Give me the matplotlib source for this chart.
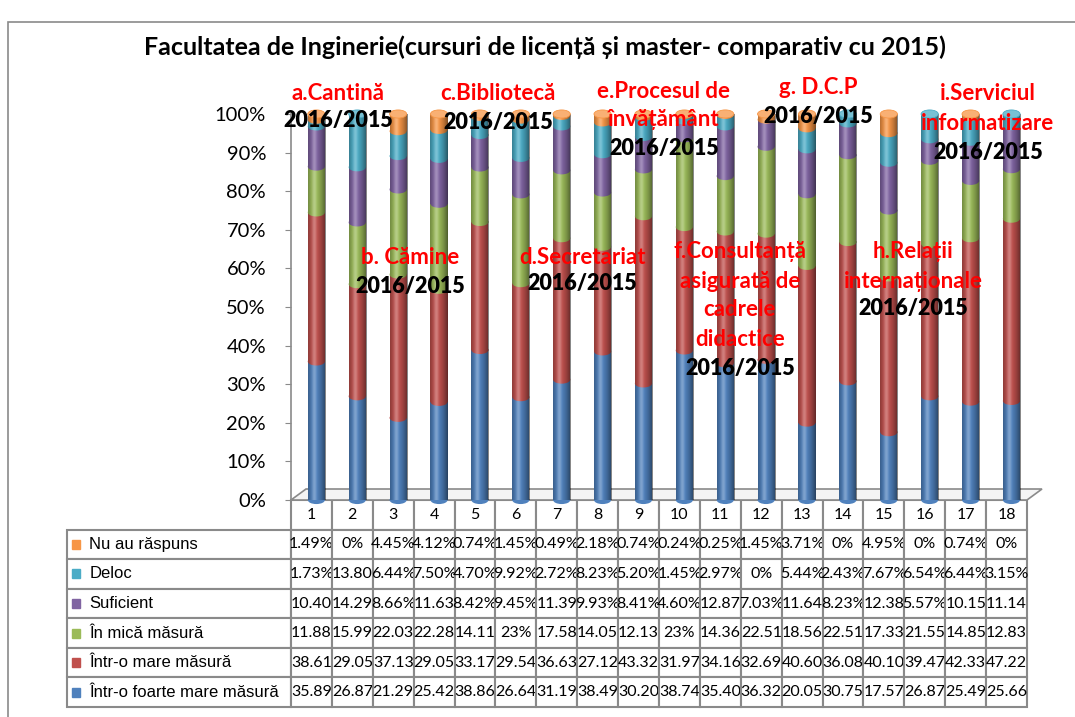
import numpy as np
import matplotlib
matplotlib.use("Agg")
import matplotlib.pyplot as plt
from matplotlib.patches import Rectangle, Ellipse, Polygon
from matplotlib.table import Table
from matplotlib.colors import to_rgb

# ---- data ----
categories = [str(i) for i in range(1, 19)]

foarte_mare = [35.89, 26.87, 21.29, 25.42, 38.86, 26.64, 31.19, 38.49, 30.20,
               38.74, 35.40, 36.32, 20.05, 30.75, 17.57, 26.87, 25.49, 25.66]
mare        = [38.61, 29.05, 37.13, 29.05, 33.17, 29.54, 36.63, 27.12, 43.32,
               31.97, 34.16, 32.69, 40.60, 36.08, 40.10, 39.47, 42.33, 47.22]
mica        = [11.88, 15.99, 22.03, 22.28, 14.11, 23.00, 17.58, 14.05, 12.13,
               23.00, 14.36, 22.51, 18.56, 22.51, 17.33, 21.55, 14.85, 12.83]
suficient   = [10.40, 14.29, 8.66, 11.63, 8.42, 9.45, 11.39, 9.93, 8.41,
               4.60, 12.87, 7.03, 11.64, 8.23, 12.38, 5.57, 10.15, 11.14]
deloc       = [1.73, 13.80, 6.44, 7.50, 4.70, 9.92, 2.72, 8.23, 5.20,
               1.45, 2.97, 0.00, 5.44, 2.43, 7.67, 6.54, 6.44, 3.15]
nu_raspuns  = [1.49, 0.00, 4.45, 4.12, 0.74, 1.45, 0.49, 2.18, 0.74,
               0.24, 0.25, 1.45, 3.71, 0.00, 4.95, 0.00, 0.74, 0.00]

# bottom -> top
series_names = ["Într-o foarte mare măsură", "Într-o mare măsură", "În mică măsură",
                "Suficient", "Deloc", "Nu au răspuns"]
series_vals = [foarte_mare, mare, mica, suficient, deloc, nu_raspuns]
colors = ["#4F81BD", "#C0504D", "#9BBB59", "#8064A2", "#4BACC6", "#F79646"]

title = "Facultatea de Inginerie(cursuri de licență și master- comparativ cu 2015)"
groups = ["a.Cantină", "b. Cămine", "c.Bibliotecă", "d.Secretariat",
          "e.Procesul de\nînvățământ", "f.Consultanță\nasigurată de\ncadrele\ndidactice",
          "g. D.C.P", "h.Relații\ninternaționale", "i.Serviciul\ninformatizare"]
period = "2016/2015"

# ---- layout (pixels of the 1075x717 picture) ----
W, H = 1075, 717
def fx(x): return x / W
def fy(y): return 1 - y / H

# centre x, red label first-line y, black period y
group_pos = [(338, 93, 120), (410, 258, 287), (498, 94, 122), (582, 257, 284),
             (664, 91, 148), (740, 252, 368), (818, 88, 117), (913, 252, 308),
             (988, 94, 152)]
LINE_PX = 29

FONT = ["Lato", "DejaVu Sans"]
BAR_W = 0.42
DEPTH_DX = 0.12
CAP_H = 2.1
GRAY = "#8a8a8a"

AX_L, AX_R, AX_B, AX_T = 291, 1027, 500, 114

plt.rcParams["font.family"] = FONT

fig = plt.figure(figsize=(10.75, 7.17), dpi=100)
ax = fig.add_axes([fx(AX_L), fy(AX_B), fx(AX_R) - fx(AX_L), fy(AX_T) - fy(AX_B)])
ax_w, ax_h = AX_R - AX_L, AX_B - AX_T

# ---- cylinders ----
x = np.arange(1, len(categories) + 1) + DEPTH_DX
bottom = np.zeros(len(categories))
top_color = [colors[0]] * len(categories)
for k, (vals, col) in enumerate(zip(series_vals, colors)):
    vals = np.array(vals, dtype=float)
    ax.bar(x, vals, BAR_W, bottom=bottom, color=col, linewidth=0, zorder=3 + 2 * k)
    for i, (xi, b, v) in enumerate(zip(x, bottom, vals)):
        if v <= 0:
            continue
        top_color[i] = col
        ax.add_patch(Ellipse((xi, b), BAR_W, CAP_H, color=col, lw=0,
                             zorder=(2 if b == 0 else 4 + 2 * k), clip_on=False))
    bottom += vals

# shading to give a round look
t = np.linspace(0, 1, 64)
dark = 0.5 * np.abs((t - 0.4) / 0.6) ** 1.6
light = 0.28 * np.exp(-((t - 0.35) / 0.13) ** 2)
img_dark = np.zeros((1, 64, 4)); img_dark[0, :, 3] = dark
img_light = np.ones((1, 64, 4)); img_light[0, :, 3] = light
for xi in x:
    for img in (img_dark, img_light):
        ax.imshow(img, extent=[xi - BAR_W / 2, xi + BAR_W / 2, 0, bottom.max()],
                  aspect="auto", zorder=20, interpolation="bilinear")

for xi, b, col in zip(x, bottom, top_color):
    cap = tuple(min(1, 0.75 * c + 0.25) for c in to_rgb(col))
    ax.add_patch(Ellipse((xi, b), BAR_W, CAP_H, facecolor=cap, edgecolor=col,
                         lw=0.6, zorder=21, clip_on=False))

ax.set_xlim(0.5, len(categories) + 0.5)
ax.set_ylim(0, 100)
ax.set_xticks([])
ax.set_yticks(range(0, 101, 10))
ax.set_yticklabels([f"{v}%" for v in range(0, 101, 10)], fontsize=14.5)
ax.tick_params(axis="y", length=4, color=GRAY, pad=14)
for s in ["top", "right", "bottom"]:
    ax.spines[s].set_visible(False)
ax.spines["left"].set_color(GRAY)
ax.spines["left"].set_linewidth(1.2)
ax.patch.set_alpha(0)

# floor of the 3D box
dx, dy = 15 / ax_w, 11 / ax_h
ax.add_patch(Polygon([(0, 0), (1, 0), (1 + dx, dy), (dx, dy)], closed=True,
                     transform=ax.transAxes, facecolor="#f4f4f4", edgecolor=GRAY,
                     lw=1.2, clip_on=False, zorder=1))

# ---- data table ----
def fmt(v):
    if float(v).is_integer():
        return f"{int(v)}%"
    s = f"{v:.2f}%"
    return s[:-1] if v >= 10 else s   # the % is cut off by the narrow cell

rows = list(zip(series_names, series_vals))[::-1]
nrows = len(rows) + 1
TBL_H = (707 - AX_B) / ax_h
ROW_H = TBL_H / nrows
COL_W = 1 / len(categories)
LAB_W = (AX_L - 67) / ax_w

tbl = Table(ax, bbox=[0, -TBL_H, 1, TBL_H])
for j, c in enumerate(categories):
    tbl.add_cell(0, j, COL_W, ROW_H, text=c, loc="center")
for r, (name, vals) in enumerate(rows, start=1):
    tbl.add_cell(r, -1, LAB_W, ROW_H, text=name, loc="left")
    for j, v in enumerate(vals):
        tbl.add_cell(r, j, COL_W, ROW_H, text=fmt(v), loc="center")
tbl.auto_set_font_size(False)
for (r, c), cell in tbl.get_celld().items():
    cell.set_edgecolor(GRAY)
    cell.set_linewidth(1.5)
    txt = cell.get_text()
    if c == -1:
        txt.set_fontsize(12)
        txt.set_fontfamily(["Liberation Sans", "DejaVu Sans"])
    else:
        txt.set_fontsize(11.5)
ax.add_table(tbl)

for r, (name, vals) in enumerate(rows, start=1):
    yc = -TBL_H + TBL_H * (1 - (r + 0.5) / nrows)
    col = colors[series_names.index(name)]
    ax.add_patch(Rectangle((-LAB_W + 5 / ax_w, yc - 4.5 / ax_h), 8 / ax_w, 9 / ax_h,
                           transform=ax.transAxes, color=col, clip_on=False, zorder=30))

# ---- texts ----
fig.text(fx(545), fy(47), title, ha="center", va="center", fontsize=18,
         fontweight="bold")
for lab, (cx, ry, py) in zip(groups, group_pos):
    for n, line in enumerate(lab.split("\n")):
        fig.text(fx(cx), fy(ry + n * LINE_PX), line, ha="center", va="center",
                 color="#ff0000", fontsize=16, fontweight="bold", zorder=40)
    fig.text(fx(cx), fy(py), period, ha="center", va="center", color="black",
             fontsize=15.5, fontweight="heavy", zorder=40)

# outer chart border
fig.add_artist(Rectangle((fx(8), -0.05), 1.0, fy(22) + 0.05, transform=fig.transFigure,
                         fill=False, edgecolor=GRAY, lw=1.2))

fig.savefig("out.png", dpi=100)
